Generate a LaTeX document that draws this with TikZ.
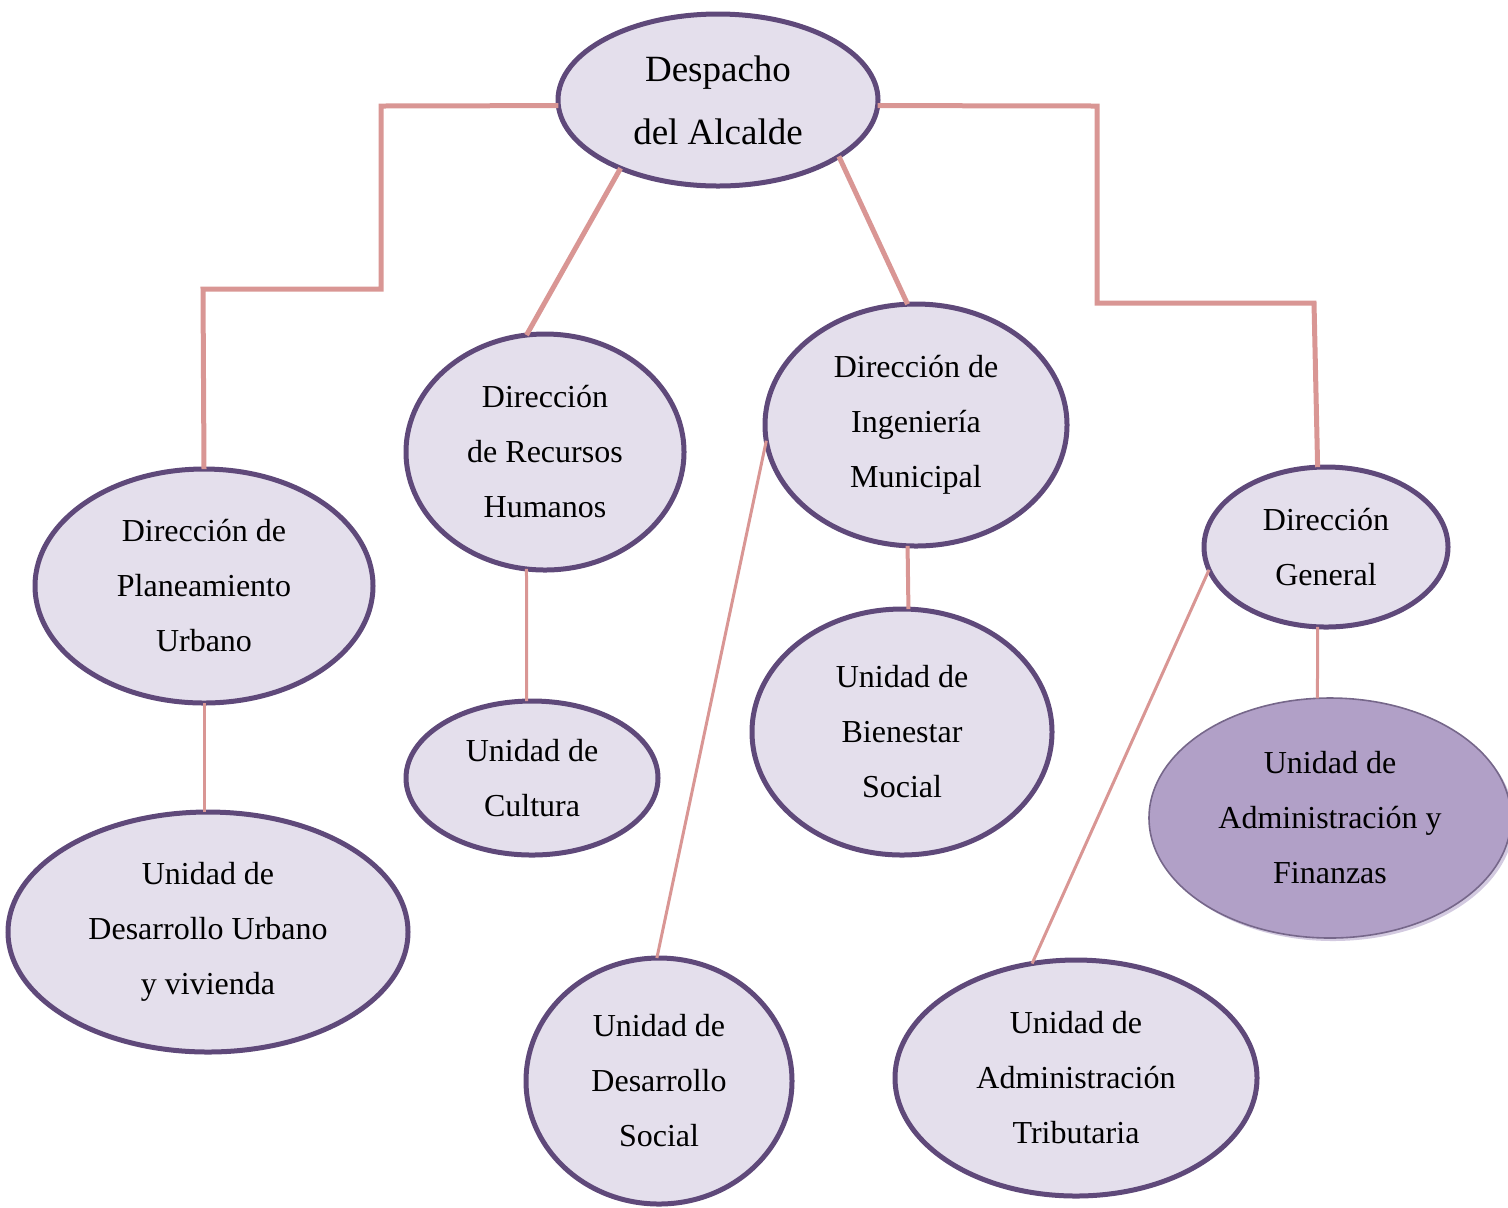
\documentclass[tikz,border=0pt]{standalone}
\usepackage{fontspec}
\setmainfont{Liberation Serif}
\usetikzlibrary{shapes.geometric}
\definecolor{efill}{HTML}{E4DFEC}
\definecolor{edraw}{HTML}{5F497A}
\definecolor{conn}{HTML}{D99694}
\definecolor{ffill}{HTML}{B1A0C7}
\definecolor{fdraw}{HTML}{76678A}
\definecolor{fshadow}{HTML}{D3CAE0}
\tikzset{
  box/.style={ellipse, fill=efill, draw=edraw, line width=2.5pt, inner sep=0pt, outer sep=0pt,
    align=center, font=\fontsize{16}{27.5}\selectfont},
  bigline/.style={draw=conn, line width=2.5pt},
  thinline/.style={draw=conn, line width=1.5pt},
}
\begin{document}
\begin{tikzpicture}[x=0.5pt,y=-0.5pt]
\useasboundingbox (0,0) rectangle (1508,1207);
\clip (0,0) rectangle (1508,1207);
% nodes (sizes in pt = px/2)
\node[box, minimum width=160pt, minimum height=86pt, font=\fontsize{18.5}{31.5}\selectfont] (desp) at (718,100) {Despacho\\del Alcalde};
\node[box, minimum width=169pt, minimum height=117pt] (plan) at (204,586) {Dirección de\\Planeamiento\\Urbano};
\node[box, minimum width=139pt, minimum height=118pt] (hr) at (545,452) {Dirección\\de Recursos\\Humanos};
\node[box, minimum width=151pt, minimum height=121pt] (ing) at (916,425) {Dirección de\\Ingeniería\\Municipal};
\node[box, minimum width=122pt, minimum height=80pt] (dg) at (1326,547) {Dirección\\General};
\node[box, minimum width=200pt, minimum height=120pt] (urb) at (208,932) {Unidad de\\Desarrollo Urbano\\y vivienda};
\node[box, minimum width=126pt, minimum height=77pt] (cult) at (532,778) {Unidad de\\Cultura};
\node[box, minimum width=150pt, minimum height=123pt] (bien) at (902,732) {Unidad de\\Bienestar\\Social};
\node[ellipse, fill=fshadow, minimum width=181pt, minimum height=120pt, inner sep=0pt, outer sep=0pt] (finsh) at (1333,821) {};
\node[box, fill=ffill, draw=fdraw, line width=0.8pt, minimum width=181pt, minimum height=120pt] (fin) at (1330,818) {Unidad de\\Administración y\\Finanzas};
\node[box, minimum width=133pt, minimum height=123pt] (dsoc) at (659,1081) {Unidad de\\Desarrollo\\Social};
\node[box, minimum width=181pt, minimum height=118pt] (trib) at (1076,1078) {Unidad de\\Administración\\Tributaria};
% connectors
\draw[bigline] (desp.182) -- (381,106) -- (381,289) -- (203,289) -- (plan.north);
\draw[bigline] (desp.358) -- (1097,106) -- (1097,303) -- (1314,303) -- (dg.96);
\draw[bigline] (desp.215) -- (hr.99);
\draw[bigline] (desp.335) -- (ing.94);
\draw[thinline] (hr.261) -- (cult.94);
\draw[thinline] (plan.south) -- (urb.north -| plan.south);
\draw[bigline, line width=2pt] (ing.266) -- (bien.87);
\draw[thinline] (ing.186) -- (dsoc.91);
\draw[thinline] (dg.264) -- (fin.96);
\draw[thinline] (dg.191) -- (trib.111);
\end{tikzpicture}
\end{document}
